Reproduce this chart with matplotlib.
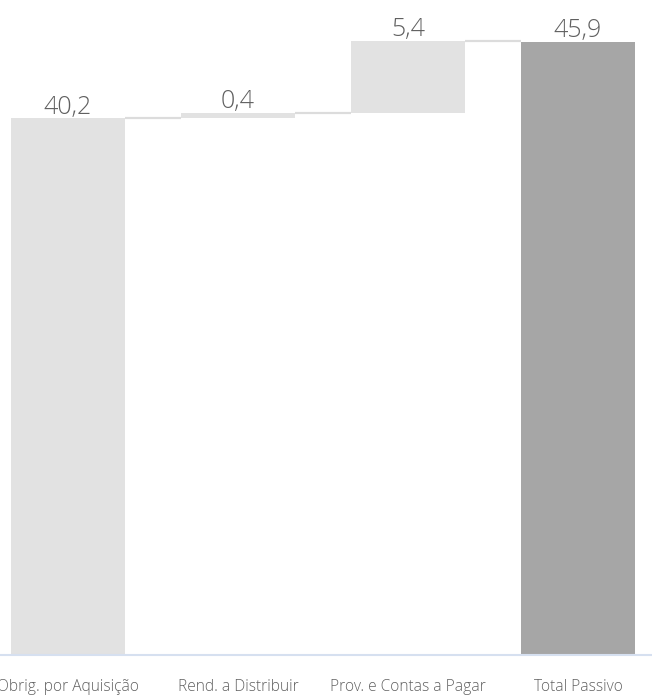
import matplotlib.pyplot as plt
import numpy as np

plt.rcParams['font.family'] = ['Open Sans', 'DejaVu Sans']

categories = ['Obrig. por Aquisição', 'Rend. a Distribuir', 'Prov. e Contas a Pagar', 'Total Passivo']
steps = [40.2, 0.4, 5.4]
total = 45.9
labels = ['40,2', '0,4', '5,4', '45,9']

fig = plt.figure(figsize=(6.52, 6.95), dpi=100)
ax = fig.add_axes([0, 40 / 695, 1, 641 / 695])

x = np.arange(len(categories))
bottoms = np.concatenate([[0], np.cumsum(steps)[:-1]])
heights = steps + [total]
bases = list(bottoms) + [0]
colors = ['#e2e2e2'] * len(steps) + ['#a6a6a6']
width = 0.67

ax.bar(x, heights, width, bottom=bases, color=colors, zorder=2)

# connectors between consecutive bars
tops = [b + h for b, h in zip(bases, heights)]
for i in range(len(categories) - 1):
    ax.plot([x[i] + width / 2, x[i + 1] - width / 2], [tops[i], tops[i]],
            color='#dcdcdc', lw=1.6, zorder=1, solid_capstyle='butt')

for xi, t, lab in zip(x, tops, labels):
    ax.annotate(lab, (xi, t), xytext=(0, -1), textcoords='offset points',
                ha='center', va='bottom', fontsize=18, color='#606060',
                fontweight='light')

ax.set_xlim(-0.4, 3.435)
ax.set_ylim(0, 48)
ax.set_yticks([])
ax.set_xticks(x)
ax.set_xticklabels(categories, fontsize=11.2, color='#606060', fontweight='light')
ax.tick_params(axis='x', length=0, pad=17)
for s in ['top', 'right', 'left']:
    ax.spines[s].set_visible(False)
ax.spines['bottom'].set_color('#d6e0f0')
ax.spines['bottom'].set_linewidth(1.5)

fig.savefig('out.png', dpi=100)
